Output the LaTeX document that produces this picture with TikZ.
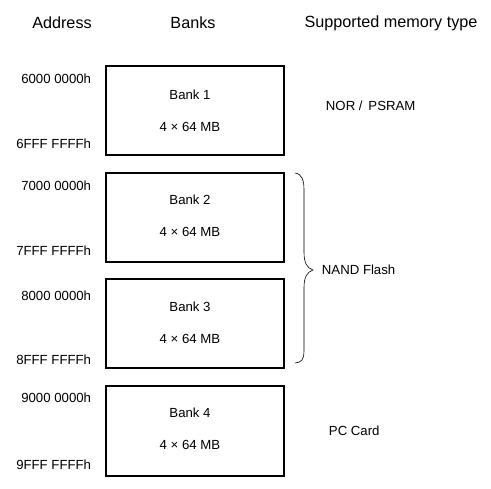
\documentclass[tikz,border=0pt]{standalone}
\usepackage{fontspec}
\setmainfont{Liberation Sans}
\usepackage{tikz}

\tikzset{
  bankbox/.style={draw, line width=1.5pt},
  head/.style={inner sep=0.75pt, font=\fontsize{16.2}{19}\selectfont},
  lbl/.style={inner sep=0.75pt, font=\fontsize{13.2}{16}\selectfont},
}

\begin{document}
\begin{tikzpicture}[x=1pt,y=1pt,yscale=-1,xscale=1]
\useasboundingbox (0,0) rectangle (491,489);

% Column headings
\node (hAddr) [head] at (62,23) {Address};
\node (hBank) [head] at (193,23) {Banks};
\node (hType) [head] at (391,23) {Supported memory type};

% Bank boxes
\draw [bankbox] (106,66) rectangle (284,155);
\draw [bankbox] (106,173) rectangle (284,262);
\draw [bankbox] (106,279) rectangle (284,368);
\draw [bankbox] (106,386) rectangle (284,476);

% Bank texts
\node (b1) [lbl] at (190,95) {Bank 1};
\node (s1) [lbl] at (190,127) {4 × 64 MB};
\node (b2) [lbl] at (190,200) {Bank 2};
\node (s2) [lbl] at (190,232) {4 × 64 MB};
\node (b3) [lbl] at (190,307) {Bank 3};
\node (s3) [lbl] at (190,339) {4 × 64 MB};
\node (b4) [lbl] at (190,413) {Bank 4};
\node (s4) [lbl] at (190,445) {4 × 64 MB};

% Address texts
\node (a1) [lbl, anchor=east] at (92,79) {6000 0000h};
\node (e1) [lbl, anchor=east] at (92,144) {6FFF FFFFh};
\node (a2) [lbl, anchor=east] at (92,186) {7000 0000h};
\node (e2) [lbl, anchor=east] at (92,251) {7FFF FFFFh};
\node (a3) [lbl, anchor=east] at (92,296) {8000 0000h};
\node (e3) [lbl, anchor=east] at (92,360) {8FFF FFFFh};
\node (a4) [lbl, anchor=east] at (92,398) {9000 0000h};
\node (e4) [lbl, anchor=east] at (92,465) {9FFF FFFFh};

% Memory types
\node (tNor) [lbl, anchor=west] at (325,106) {NOR /\, PSRAM};
\node (tNand) [lbl, anchor=west] at (321,270) {NAND Flash};
\node (tPc) [lbl, anchor=west] at (328,431) {PC Card};

% Brace
\draw [line width=0.6pt] (295,173) .. controls (302,174) and (304,180) .. (304,190) -- (304,252) .. controls (304,263) and (307,268) .. (313,270) .. controls (307,272) and (304,277) .. (304,288) -- (304,350) .. controls (304,360) and (302,362) .. (295,363);

\end{tikzpicture}
\end{document}
